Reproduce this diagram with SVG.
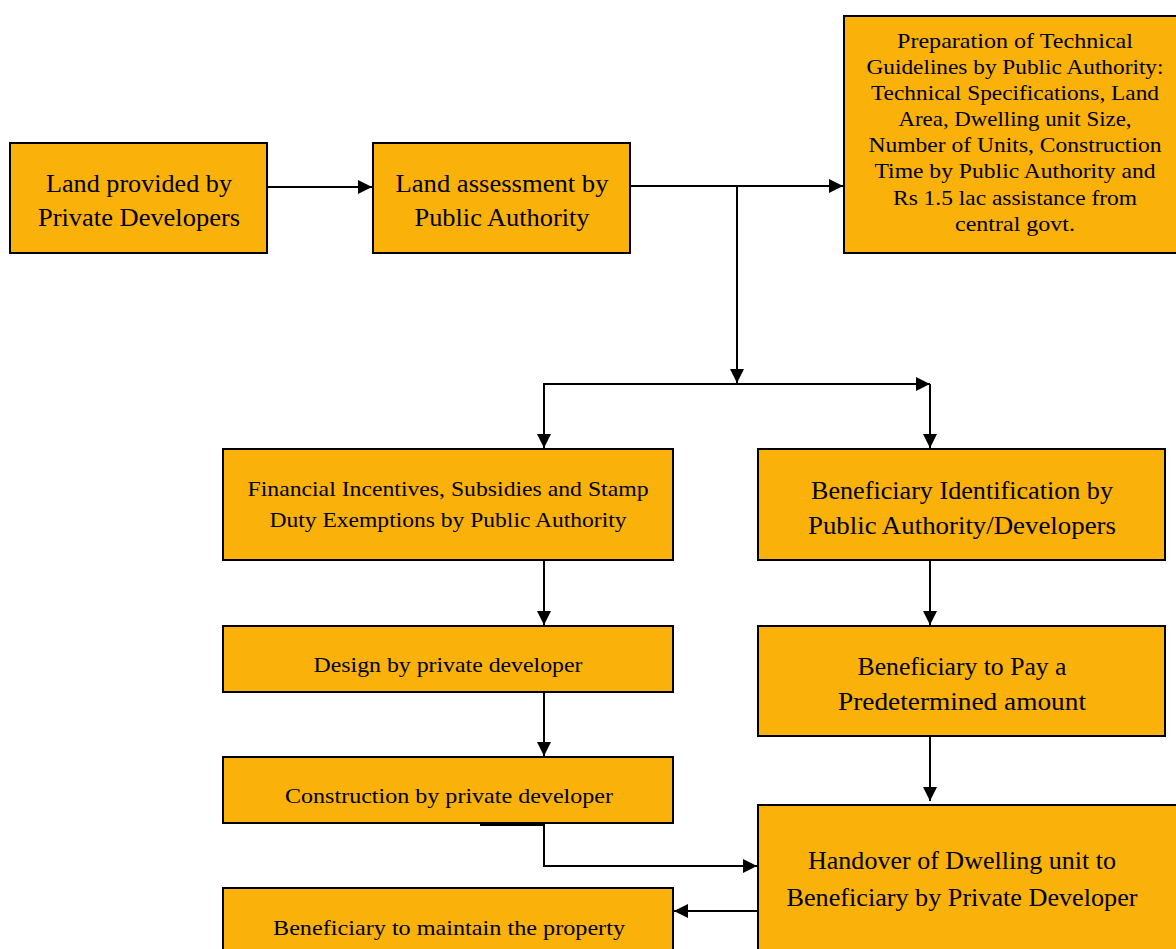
<svg xmlns="http://www.w3.org/2000/svg" width="1176" height="949" viewBox="0 0 1176 949">
<style>
.box{fill:#FAB20B;stroke:#000;stroke-width:2}
text{font-family:"Liberation Serif","DejaVu Serif",serif;fill:#000;text-anchor:middle;dominant-baseline:central}
.l{font-size:26px}
.m{font-size:22px}
.s{font-size:21px}
.c{fill:none;stroke:#000;stroke-width:2}
</style>
<defs>
<marker id="ah" viewBox="0 0 10 10" refX="10" refY="5" markerWidth="14" markerHeight="14" markerUnits="userSpaceOnUse" orient="auto">
<path d="M0,0 L10,5 L0,10 z" fill="#000"/>
</marker>
</defs>
<rect width="1176" height="949" fill="#fff"/>
<g id="connectors">
<path class="c" d="M267,187 H372" marker-end="url(#ah)"/>
<path class="c" d="M630,186 H843" marker-end="url(#ah)"/>
<path class="c" d="M737,186 V383" marker-end="url(#ah)"/>
<path class="c" d="M544,448 V384 H930" marker-end="url(#ah)"/>
<path class="c" d="M544,384 V448" marker-end="url(#ah)"/>
<path class="c" d="M930,384 V448" marker-end="url(#ah)"/>
<path class="c" d="M544,560 V625" marker-end="url(#ah)"/>
<path class="c" d="M544,692 V756" marker-end="url(#ah)"/>
<path class="c" d="M930,560 V625" marker-end="url(#ah)"/>
<path class="c" d="M930,736 V801" marker-end="url(#ah)"/>
<path class="c" d="M480,825 H544 V866 H757" marker-end="url(#ah)"/>
<path class="c" d="M758,911 H674" marker-end="url(#ah)"/>
</g>
<g id="n1"><rect class="box" x="10" y="143" width="257" height="110"/><text class="l" x="139" y="183" textLength="186" lengthAdjust="spacingAndGlyphs">Land provided by</text><text class="l" x="139" y="217" textLength="202" lengthAdjust="spacingAndGlyphs">Private Developers</text></g>
<g id="n2"><rect class="box" x="373" y="143" width="257" height="110"/><text class="l" x="502" y="183" textLength="213" lengthAdjust="spacingAndGlyphs">Land assessment by</text><text class="l" x="502" y="217" textLength="175" lengthAdjust="spacingAndGlyphs">Public Authority</text></g>
<g id="n3"><rect class="box" x="844" y="16" width="340" height="237"/>
<text class="m" x="1015" y="40" textLength="236" lengthAdjust="spacingAndGlyphs">Preparation of Technical</text>
<text class="m" x="1015" y="66" textLength="297" lengthAdjust="spacingAndGlyphs">Guidelines by Public Authority:</text>
<text class="m" x="1015" y="92" textLength="288" lengthAdjust="spacingAndGlyphs">Technical Specifications, Land</text>
<text class="m" x="1015" y="118" textLength="233" lengthAdjust="spacingAndGlyphs">Area, Dwelling unit Size,</text>
<text class="m" x="1015" y="144" textLength="293" lengthAdjust="spacingAndGlyphs">Number of Units, Construction</text>
<text class="m" x="1015" y="170" textLength="281" lengthAdjust="spacingAndGlyphs">Time by Public Authority and</text>
<text class="m" x="1015" y="197" textLength="244" lengthAdjust="spacingAndGlyphs">Rs 1.5 lac assistance from</text>
<text class="m" x="1015" y="223" textLength="120" lengthAdjust="spacingAndGlyphs">central govt.</text></g>
<g id="n4"><rect class="box" x="223" y="449" width="450" height="111"/><text class="s" x="448" y="489" textLength="401" lengthAdjust="spacingAndGlyphs">Financial Incentives, Subsidies and Stamp</text><text class="s" x="448" y="520" textLength="357" lengthAdjust="spacingAndGlyphs">Duty Exemptions by Public Authority</text></g>
<g id="n5"><rect class="box" x="758" y="449" width="407" height="111"/><text class="l" x="962" y="490" textLength="302" lengthAdjust="spacingAndGlyphs">Beneficiary Identification by</text><text class="l" x="962" y="525" textLength="308" lengthAdjust="spacingAndGlyphs">Public Authority/Developers</text></g>
<g id="n6"><rect class="box" x="223" y="626" width="450" height="66"/><text class="s" x="448" y="665" textLength="269" lengthAdjust="spacingAndGlyphs">Design by private developer</text></g>
<g id="n7"><rect class="box" x="223" y="757" width="450" height="66"/><text class="s" x="449" y="796" textLength="328" lengthAdjust="spacingAndGlyphs">Construction by private developer</text></g>
<g id="n8"><rect class="box" x="758" y="626" width="407" height="110"/><text class="l" x="962" y="666" textLength="209" lengthAdjust="spacingAndGlyphs">Beneficiary to Pay a</text><text class="l" x="962" y="701" textLength="248" lengthAdjust="spacingAndGlyphs">Predetermined amount</text></g>
<g id="n9"><rect class="box" x="758" y="805" width="430" height="160"/><text class="l" x="962" y="860" textLength="308" lengthAdjust="spacingAndGlyphs">Handover of Dwelling unit to</text><text class="l" x="962" y="897" textLength="351" lengthAdjust="spacingAndGlyphs">Beneficiary by Private Developer</text></g>
<g id="n10"><rect class="box" x="223" y="888" width="450" height="80"/><text class="s" x="449" y="928" textLength="352" lengthAdjust="spacingAndGlyphs">Beneficiary to maintain the property</text></g>
</svg>
